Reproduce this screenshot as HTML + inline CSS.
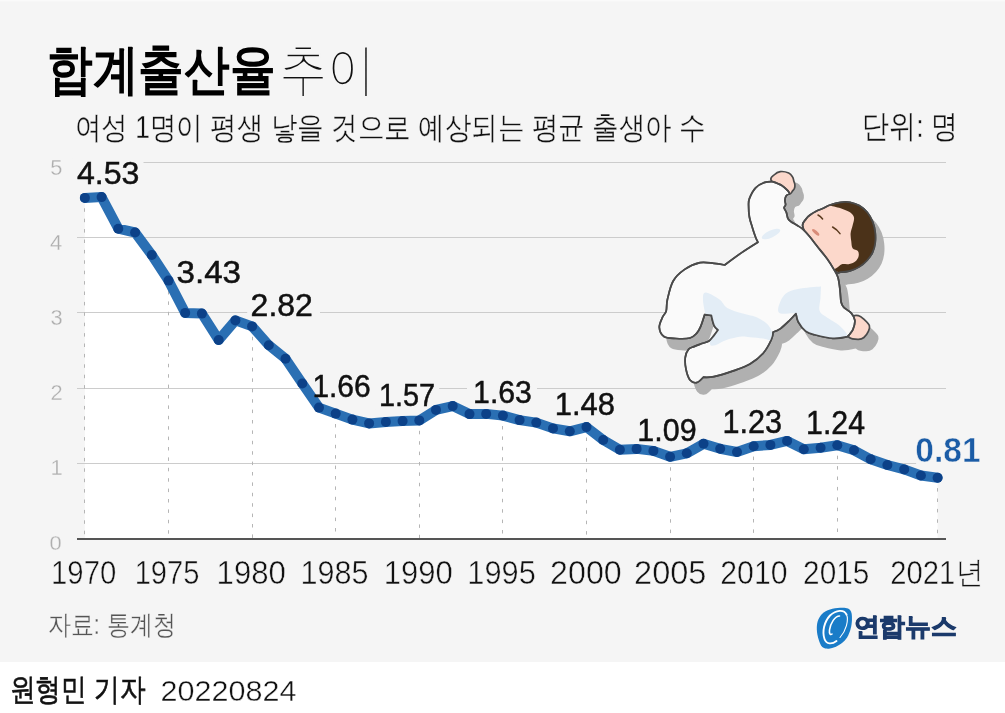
<!DOCTYPE html>
<html><head><meta charset="utf-8"><style>
html,body{margin:0;padding:0;background:#fff;}
body{width:1005px;height:713px;overflow:hidden;position:relative;font-family:"Liberation Sans",sans-serif;}
svg{position:absolute;left:0;top:0;will-change:transform;}
</style></head><body>
<svg width="1005" height="713" viewBox="0 0 1005 713" style="font-family:'Liberation Sans',sans-serif">
<rect x="0" y="0" width="1005" height="662" fill="#f5f5f5"/><rect x="0" y="0" width="1005" height="1.5" fill="#fafafa"/>
<polygon points="84.9,538.4 84.9,197.9 101.6,197.1 118.3,228.7 135.1,232.5 151.8,255.0 168.5,280.6 185.2,312.9 201.9,313.6 218.7,340.0 235.4,320.4 252.1,326.4 268.8,345.2 285.5,358.7 302.3,383.5 319.0,407.6 335.7,413.6 352.4,419.6 369.1,423.4 385.9,421.9 402.6,421.1 419.3,420.4 436.0,409.9 452.7,406.1 469.5,414.1 486.2,413.9 502.9,415.6 519.6,420.1 536.3,422.6 553.0,428.4 569.8,431.3 586.5,427.1 603.2,440.0 619.9,449.8 636.6,448.9 653.4,450.9 670.1,456.8 686.8,453.3 703.5,443.8 720.2,448.8 737.0,452.0 753.7,446.2 770.4,444.9 787.1,440.9 803.8,449.2 820.6,447.8 837.3,445.3 854.0,450.3 870.7,459.3 887.4,465.0 904.2,469.4 920.9,475.5 937.6,477.7 937.6,538.4" fill="#fff"/>
<line x1="77" x2="946" y1="463.5" y2="463.5" stroke="#cccccc" stroke-width="1"/>
<line x1="77" x2="946" y1="388.5" y2="388.5" stroke="#cccccc" stroke-width="1"/>
<line x1="77" x2="946" y1="312.5" y2="312.5" stroke="#cccccc" stroke-width="1"/>
<line x1="77" x2="946" y1="237.5" y2="237.5" stroke="#cccccc" stroke-width="1"/>
<line x1="77" x2="946" y1="162.5" y2="162.5" stroke="#cccccc" stroke-width="1"/>
<line x1="84.5" x2="84.5" y1="197.9" y2="538.4" stroke="#b5b5b5" stroke-width="1" stroke-dasharray="3.5,6.9"/>
<line x1="168.5" x2="168.5" y1="280.6" y2="538.4" stroke="#b5b5b5" stroke-width="1" stroke-dasharray="3.5,6.9"/>
<line x1="252.5" x2="252.5" y1="326.4" y2="538.4" stroke="#b5b5b5" stroke-width="1" stroke-dasharray="3.5,6.9"/>
<line x1="335.5" x2="335.5" y1="413.6" y2="538.4" stroke="#b5b5b5" stroke-width="1" stroke-dasharray="3.5,6.9"/>
<line x1="419.5" x2="419.5" y1="420.4" y2="538.4" stroke="#b5b5b5" stroke-width="1" stroke-dasharray="3.5,6.9"/>
<line x1="502.5" x2="502.5" y1="415.6" y2="538.4" stroke="#b5b5b5" stroke-width="1" stroke-dasharray="3.5,6.9"/>
<line x1="586.5" x2="586.5" y1="427.1" y2="538.4" stroke="#b5b5b5" stroke-width="1" stroke-dasharray="3.5,6.9"/>
<line x1="670.5" x2="670.5" y1="456.8" y2="538.4" stroke="#b5b5b5" stroke-width="1" stroke-dasharray="3.5,6.9"/>
<line x1="753.5" x2="753.5" y1="446.2" y2="538.4" stroke="#b5b5b5" stroke-width="1" stroke-dasharray="3.5,6.9"/>
<line x1="837.5" x2="837.5" y1="445.3" y2="538.4" stroke="#b5b5b5" stroke-width="1" stroke-dasharray="3.5,6.9"/>
<line x1="937.5" x2="937.5" y1="477.7" y2="538.4" stroke="#b5b5b5" stroke-width="1" stroke-dasharray="3.5,6.9"/>
<line x1="77" x2="946" y1="539" y2="539" stroke="#555" stroke-width="2"/>
<rect x="72.1" y="158.9" width="71.4" height="28.900000000000006" fill="#f5f5f5"/>
<rect x="172.3" y="257.2" width="72.69999999999999" height="28.80000000000001" fill="#f5f5f5"/>
<rect x="247.2" y="291.3" width="72.79999999999998" height="28.5" fill="#f5f5f5"/>
<rect x="308.8" y="371.8" width="67.5" height="28.899999999999977" fill="#f5f5f5"/>
<rect x="375.7" y="380.9" width="63.5" height="28.700000000000045" fill="#f5f5f5"/>
<rect x="467.0" y="377.3" width="70.0" height="28.69999999999999" fill="#f5f5f5"/>
<rect x="551.7" y="390.1" width="67.29999999999995" height="28.69999999999999" fill="#f5f5f5"/>
<rect x="634.3" y="415.2" width="66.40000000000009" height="28.69999999999999" fill="#f5f5f5"/>
<rect x="719.4" y="406.9" width="66.70000000000005" height="29.900000000000034" fill="#f5f5f5"/>
<rect x="803.0" y="406.9" width="66.70000000000005" height="29.900000000000034" fill="#f5f5f5"/>
<rect x="916.1" y="434.2" width="69.60000000000002" height="31.19999999999999" fill="#f5f5f5"/>
<polyline points="84.9,197.9 101.6,197.1 118.3,228.7 135.1,232.5 151.8,255.0 168.5,280.6 185.2,312.9 201.9,313.6 218.7,340.0 235.4,320.4 252.1,326.4 268.8,345.2 285.5,358.7 302.3,383.5 319.0,407.6 335.7,413.6 352.4,419.6 369.1,423.4 385.9,421.9 402.6,421.1 419.3,420.4 436.0,409.9 452.7,406.1 469.5,414.1 486.2,413.9 502.9,415.6 519.6,420.1 536.3,422.6 553.0,428.4 569.8,431.3 586.5,427.1 603.2,440.0 619.9,449.8 636.6,448.9 653.4,450.9 670.1,456.8 686.8,453.3 703.5,443.8 720.2,448.8 737.0,452.0 753.7,446.2 770.4,444.9 787.1,440.9 803.8,449.2 820.6,447.8 837.3,445.3 854.0,450.3 870.7,459.3 887.4,465.0 904.2,469.4 920.9,475.5 937.6,477.7" fill="none" stroke="#2a6fb3" stroke-width="10" stroke-linejoin="round" stroke-linecap="round"/>
<g fill="#0c4188"><circle cx="84.9" cy="197.9" r="5"/><circle cx="101.6" cy="197.1" r="5"/><circle cx="118.3" cy="228.7" r="5"/><circle cx="135.1" cy="232.5" r="5"/><circle cx="151.8" cy="255.0" r="5"/><circle cx="168.5" cy="280.6" r="5"/><circle cx="185.2" cy="312.9" r="5"/><circle cx="201.9" cy="313.6" r="5"/><circle cx="218.7" cy="340.0" r="5"/><circle cx="235.4" cy="320.4" r="5"/><circle cx="252.1" cy="326.4" r="5"/><circle cx="268.8" cy="345.2" r="5"/><circle cx="285.5" cy="358.7" r="5"/><circle cx="302.3" cy="383.5" r="5"/><circle cx="319.0" cy="407.6" r="5"/><circle cx="335.7" cy="413.6" r="5"/><circle cx="352.4" cy="419.6" r="5"/><circle cx="369.1" cy="423.4" r="5"/><circle cx="385.9" cy="421.9" r="5"/><circle cx="402.6" cy="421.1" r="5"/><circle cx="419.3" cy="420.4" r="5"/><circle cx="436.0" cy="409.9" r="5"/><circle cx="452.7" cy="406.1" r="5"/><circle cx="469.5" cy="414.1" r="5"/><circle cx="486.2" cy="413.9" r="5"/><circle cx="502.9" cy="415.6" r="5"/><circle cx="519.6" cy="420.1" r="5"/><circle cx="536.3" cy="422.6" r="5"/><circle cx="553.0" cy="428.4" r="5"/><circle cx="569.8" cy="431.3" r="5"/><circle cx="586.5" cy="427.1" r="5"/><circle cx="603.2" cy="440.0" r="5"/><circle cx="619.9" cy="449.8" r="5"/><circle cx="636.6" cy="448.9" r="5"/><circle cx="653.4" cy="450.9" r="5"/><circle cx="670.1" cy="456.8" r="5"/><circle cx="686.8" cy="453.3" r="5"/><circle cx="703.5" cy="443.8" r="5"/><circle cx="720.2" cy="448.8" r="5"/><circle cx="737.0" cy="452.0" r="5"/><circle cx="753.7" cy="446.2" r="5"/><circle cx="770.4" cy="444.9" r="5"/><circle cx="787.1" cy="440.9" r="5"/><circle cx="803.8" cy="449.2" r="5"/><circle cx="820.6" cy="447.8" r="5"/><circle cx="837.3" cy="445.3" r="5"/><circle cx="854.0" cy="450.3" r="5"/><circle cx="870.7" cy="459.3" r="5"/><circle cx="887.4" cy="465.0" r="5"/><circle cx="904.2" cy="469.4" r="5"/><circle cx="920.9" cy="475.5" r="5"/><circle cx="937.6" cy="477.7" r="5"/></g>
<g transform="translate(8,11)" fill="#b0b0b0" stroke="#b0b0b0" stroke-width="2"><path d="M802.6,225.6C802.3,222.4 804.8,220.8 806.0,219.0C807.2,217.2 808.2,216.3 810.0,215.0C811.8,213.7 814.4,212.1 816.6,211.0C818.8,209.9 821.1,209.3 823.3,208.3C825.5,207.3 827.1,206.0 830.0,205.0C832.9,204.0 837.3,202.8 840.6,202.3C843.9,201.9 846.9,201.8 850.0,202.3C853.1,202.9 856.3,203.9 859.2,205.6C862.1,207.3 865.0,209.6 867.2,212.3C869.4,215.0 871.3,218.3 872.6,221.6C873.9,224.9 874.8,228.7 875.2,232.3C875.6,235.9 875.6,239.7 875.2,243.0C874.8,246.3 873.9,249.4 872.6,252.3C871.3,255.2 869.4,257.8 867.2,260.2C865.0,262.6 862.1,265.1 859.2,266.9C856.3,268.7 853.1,270.0 850.0,270.9C846.9,271.8 843.1,272.1 840.6,272.2C838.1,272.3 838.7,274.5 835.3,271.6C831.9,268.7 824.5,260.6 820.0,255.0C815.5,249.4 810.9,242.9 808.0,238.0C805.1,233.1 802.9,228.8 802.6,225.6Z"/><path d="M771.0,180.0C770.0,177.2 772.5,176.4 774.0,175.0C775.5,173.6 777.8,171.9 780.2,171.6C782.7,171.3 786.6,172.1 788.7,173.0C790.8,173.9 791.8,175.7 792.6,177.0C793.5,178.3 793.4,179.7 793.8,181.0C794.2,182.3 794.8,183.4 794.9,184.7C795.0,185.9 794.8,187.5 794.4,188.5C794.0,189.5 793.4,190.0 792.6,190.9C791.8,191.8 791.6,193.8 789.5,194.0C787.4,194.2 783.1,194.3 780.0,192.0C776.9,189.7 772.0,182.8 771.0,180.0Z"/><path d="M849.0,318.0C851.4,315.9 855.8,315.2 858.4,315.6C861.0,316.0 863.0,318.5 864.8,320.2C866.6,321.9 868.8,323.9 869.4,325.7C870.0,327.5 869.4,329.1 868.5,331.1C867.6,333.1 865.6,336.1 863.9,337.5C862.2,338.9 860.8,339.3 858.4,339.3C856.0,339.3 851.7,339.4 849.3,337.5C846.9,335.6 844.0,331.2 844.0,328.0C844.0,324.8 846.6,320.1 849.0,318.0Z"/><path d="M772.5,181.6C772.5,181.6 779.2,183.9 781.8,185.5C784.4,187.1 786.7,189.5 788.0,190.9C789.3,192.3 789.5,194.0 789.5,194.0C789.5,194.0 787.2,194.5 786.4,195.5C785.6,196.5 785.0,198.5 784.9,200.1C784.8,201.7 785.7,203.5 785.6,204.8C785.5,206.1 784.0,206.5 784.1,207.8C784.2,209.1 785.8,210.7 786.4,212.5C787.0,214.3 787.2,217.1 788.0,218.6C788.8,220.1 789.5,220.6 791.0,221.7C792.5,222.8 795.0,223.9 797.0,225.2C799.0,226.5 801.1,227.6 803.3,229.6C805.5,231.6 807.8,234.3 810.0,237.0C812.2,239.7 813.7,241.9 816.6,245.6C819.5,249.3 824.4,255.0 827.3,259.0C830.2,263.0 832.2,266.5 834.0,269.6C835.8,272.7 837.0,274.2 838.0,277.6C839.0,281.0 839.5,285.9 840.0,290.0C840.5,294.1 840.5,299.1 841.1,302.0C841.7,304.9 842.1,305.6 843.8,307.4C845.5,309.2 849.3,310.8 851.1,312.9C852.9,315.0 854.5,317.5 854.8,320.2C855.1,322.9 854.2,326.6 853.0,329.3C851.8,332.0 847.5,336.6 847.5,336.6C847.5,336.6 838.4,338.7 832.9,338.4C827.4,338.1 819.2,336.0 814.7,334.8C810.2,333.6 808.3,333.2 805.6,331.1C802.9,329.0 799.9,324.9 798.3,322.0C796.7,319.1 796.0,313.5 796.0,313.5C796.0,313.5 792.5,317.5 789.9,320.0C787.3,322.5 783.3,326.6 780.5,328.6C777.7,330.6 773.2,332.0 773.2,332.0C773.2,332.0 772.9,336.4 771.2,340.0C769.5,343.6 766.7,349.3 763.2,353.3C759.7,357.3 754.9,361.1 750.0,364.0C745.1,366.9 740.0,368.5 734.0,370.6C728.0,372.7 719.1,375.5 714.0,376.6C708.9,377.7 703.3,377.2 703.3,377.2C703.3,377.2 698.8,382.1 696.6,382.6C694.4,383.1 691.8,382.2 690.0,380.0C688.2,377.8 686.8,373.1 686.0,369.3C685.2,365.5 684.9,360.6 685.3,357.3C685.7,354.0 687.1,351.1 688.6,349.3C690.1,347.5 692.0,347.5 694.0,346.6C696.0,345.7 698.2,344.9 700.6,344.0C703.0,343.1 706.6,342.4 708.6,341.3C710.6,340.2 711.0,339.2 712.6,337.3C714.2,335.4 718.0,330.0 718.0,330.0C718.0,330.0 715.1,327.8 714.0,325.3C712.9,322.9 711.3,315.3 711.3,315.3C711.3,315.3 704.6,314.7 704.6,314.7C704.6,314.7 701.9,323.5 700.6,326.6C699.3,329.7 698.4,331.4 696.6,333.3C694.8,335.2 693.4,337.1 690.0,338.0C686.6,338.9 680.4,338.8 676.0,338.5C671.6,338.2 666.7,338.4 663.9,336.5C661.1,334.6 659.5,330.5 659.3,327.2C659.1,323.9 661.6,319.5 662.7,316.8C663.9,314.1 665.4,313.9 666.2,311.0C667.0,308.1 666.2,304.5 667.4,299.5C668.6,294.5 670.3,286.0 673.2,281.0C676.1,276.0 680.2,272.5 684.7,269.4C689.2,266.3 695.1,263.6 700.0,262.6C704.9,261.6 709.8,263.0 713.9,263.4C718.0,263.8 724.7,265.0 724.7,265.0C724.7,265.0 736.2,256.4 741.7,252.6C747.2,248.8 757.9,242.2 757.9,242.2C757.9,242.2 756.5,239.6 755.6,237.2C754.7,234.8 753.5,231.3 752.5,227.9C751.5,224.5 750.0,220.6 749.4,217.0C748.8,213.4 748.6,209.4 748.6,206.3C748.6,203.2 748.2,201.7 749.4,198.6C750.6,195.5 753.0,190.5 755.6,187.8C758.2,185.1 762.0,183.4 764.8,182.4C767.6,181.4 772.5,181.6 772.5,181.6Z"/></g>
<path d="M802.6,225.6C802.3,222.4 804.8,220.8 806.0,219.0C807.2,217.2 808.2,216.3 810.0,215.0C811.8,213.7 814.4,212.1 816.6,211.0C818.8,209.9 821.1,209.3 823.3,208.3C825.5,207.3 827.1,206.0 830.0,205.0C832.9,204.0 837.3,202.8 840.6,202.3C843.9,201.9 846.9,201.8 850.0,202.3C853.1,202.9 856.3,203.9 859.2,205.6C862.1,207.3 865.0,209.6 867.2,212.3C869.4,215.0 871.3,218.3 872.6,221.6C873.9,224.9 874.8,228.7 875.2,232.3C875.6,235.9 875.6,239.7 875.2,243.0C874.8,246.3 873.9,249.4 872.6,252.3C871.3,255.2 869.4,257.8 867.2,260.2C865.0,262.6 862.1,265.1 859.2,266.9C856.3,268.7 853.1,270.0 850.0,270.9C846.9,271.8 843.1,272.1 840.6,272.2C838.1,272.3 838.7,274.5 835.3,271.6C831.9,268.7 824.5,260.6 820.0,255.0C815.5,249.4 810.9,242.9 808.0,238.0C805.1,233.1 802.9,228.8 802.6,225.6Z" fill="#fcd8cb" stroke="#4a4a4a" stroke-width="1.7" stroke-linejoin="round"/>
<path d="M830.0,205.0C830.0,204.0 837.3,202.8 840.6,202.3C843.9,201.9 846.9,201.8 850.0,202.3C853.1,202.9 856.3,203.9 859.2,205.6C862.1,207.3 865.0,209.6 867.2,212.3C869.4,215.0 871.3,218.3 872.6,221.6C873.9,224.9 874.8,228.7 875.2,232.3C875.6,235.9 875.6,239.7 875.2,243.0C874.8,246.3 873.9,249.4 872.6,252.3C871.3,255.2 869.4,257.8 867.2,260.2C865.0,262.6 862.1,265.1 859.2,266.9C856.3,268.7 853.1,270.0 850.0,270.9C846.9,271.8 843.1,272.1 840.6,272.2C838.1,272.3 836.4,272.0 835.3,271.6C834.2,271.2 833.5,270.4 834.0,269.6C834.5,268.8 836.7,267.8 838.0,266.9C839.3,266.0 840.1,264.6 841.9,264.2C843.7,263.8 846.4,264.6 848.6,264.2C850.8,263.8 853.5,262.9 855.2,261.6C856.9,260.3 858.2,258.1 858.6,256.3C859.0,254.5 858.9,252.3 857.9,251.0C856.9,249.7 853.7,249.9 852.6,248.3C851.5,246.7 851.6,244.1 851.3,241.6C851.0,239.1 850.4,236.3 850.6,233.6C850.8,230.9 852.0,228.3 852.6,225.6C853.2,222.9 854.4,219.8 854.0,217.6C853.6,215.4 852.2,213.9 850.0,212.3C847.8,210.8 843.9,209.5 840.6,208.3C837.3,207.1 830.0,206.0 830.0,205.0Z" fill="#4b3219"/>
<path d="M802.6,225.6C802.3,222.4 804.8,220.8 806.0,219.0C807.2,217.2 808.2,216.3 810.0,215.0C811.8,213.7 814.4,212.1 816.6,211.0C818.8,209.9 821.1,209.3 823.3,208.3C825.5,207.3 827.1,206.0 830.0,205.0C832.9,204.0 837.3,202.8 840.6,202.3C843.9,201.9 846.9,201.8 850.0,202.3C853.1,202.9 856.3,203.9 859.2,205.6C862.1,207.3 865.0,209.6 867.2,212.3C869.4,215.0 871.3,218.3 872.6,221.6C873.9,224.9 874.8,228.7 875.2,232.3C875.6,235.9 875.6,239.7 875.2,243.0C874.8,246.3 873.9,249.4 872.6,252.3C871.3,255.2 869.4,257.8 867.2,260.2C865.0,262.6 862.1,265.1 859.2,266.9C856.3,268.7 853.1,270.0 850.0,270.9C846.9,271.8 843.1,272.1 840.6,272.2C838.1,272.3 838.7,274.5 835.3,271.6C831.9,268.7 824.5,260.6 820.0,255.0C815.5,249.4 810.9,242.9 808.0,238.0C805.1,233.1 802.9,228.8 802.6,225.6Z" fill="none" stroke="#4a4a4a" stroke-width="1.7" stroke-linejoin="round"/>
<path d="M818,215 Q820.5,216.3 822.6,219" stroke="#5a3a1e" stroke-width="1.5" fill="none" stroke-linecap="round"/>
<path d="M832.6,227 Q837,229.5 840,233.6" stroke="#5a3a1e" stroke-width="1.5" fill="none" stroke-linecap="round"/>
<ellipse cx="815.7" cy="232.3" rx="4.6" ry="1.6" transform="rotate(42 815.7 232.3)" fill="#d98c79"/>
<path d="M771.0,180.0C770.0,177.2 772.5,176.4 774.0,175.0C775.5,173.6 777.8,171.9 780.2,171.6C782.7,171.3 786.6,172.1 788.7,173.0C790.8,173.9 791.8,175.7 792.6,177.0C793.5,178.3 793.4,179.7 793.8,181.0C794.2,182.3 794.8,183.4 794.9,184.7C795.0,185.9 794.8,187.5 794.4,188.5C794.0,189.5 793.4,190.0 792.6,190.9C791.8,191.8 791.6,193.8 789.5,194.0C787.4,194.2 783.1,194.3 780.0,192.0C776.9,189.7 772.0,182.8 771.0,180.0Z" fill="#fcd8cb" stroke="#4a4a4a" stroke-width="1.7" stroke-linejoin="round"/>
<path d="M849.0,318.0C851.4,315.9 855.8,315.2 858.4,315.6C861.0,316.0 863.0,318.5 864.8,320.2C866.6,321.9 868.8,323.9 869.4,325.7C870.0,327.5 869.4,329.1 868.5,331.1C867.6,333.1 865.6,336.1 863.9,337.5C862.2,338.9 860.8,339.3 858.4,339.3C856.0,339.3 851.7,339.4 849.3,337.5C846.9,335.6 844.0,331.2 844.0,328.0C844.0,324.8 846.6,320.1 849.0,318.0Z" fill="#fcd8cb" stroke="#4a4a4a" stroke-width="1.7" stroke-linejoin="round"/>
<path d="M772.5,181.6C772.5,181.6 779.2,183.9 781.8,185.5C784.4,187.1 786.7,189.5 788.0,190.9C789.3,192.3 789.5,194.0 789.5,194.0C789.5,194.0 787.2,194.5 786.4,195.5C785.6,196.5 785.0,198.5 784.9,200.1C784.8,201.7 785.7,203.5 785.6,204.8C785.5,206.1 784.0,206.5 784.1,207.8C784.2,209.1 785.8,210.7 786.4,212.5C787.0,214.3 787.2,217.1 788.0,218.6C788.8,220.1 789.5,220.6 791.0,221.7C792.5,222.8 795.0,223.9 797.0,225.2C799.0,226.5 801.1,227.6 803.3,229.6C805.5,231.6 807.8,234.3 810.0,237.0C812.2,239.7 813.7,241.9 816.6,245.6C819.5,249.3 824.4,255.0 827.3,259.0C830.2,263.0 832.2,266.5 834.0,269.6C835.8,272.7 837.0,274.2 838.0,277.6C839.0,281.0 839.5,285.9 840.0,290.0C840.5,294.1 840.5,299.1 841.1,302.0C841.7,304.9 842.1,305.6 843.8,307.4C845.5,309.2 849.3,310.8 851.1,312.9C852.9,315.0 854.5,317.5 854.8,320.2C855.1,322.9 854.2,326.6 853.0,329.3C851.8,332.0 847.5,336.6 847.5,336.6C847.5,336.6 838.4,338.7 832.9,338.4C827.4,338.1 819.2,336.0 814.7,334.8C810.2,333.6 808.3,333.2 805.6,331.1C802.9,329.0 799.9,324.9 798.3,322.0C796.7,319.1 796.0,313.5 796.0,313.5C796.0,313.5 792.5,317.5 789.9,320.0C787.3,322.5 783.3,326.6 780.5,328.6C777.7,330.6 773.2,332.0 773.2,332.0C773.2,332.0 772.9,336.4 771.2,340.0C769.5,343.6 766.7,349.3 763.2,353.3C759.7,357.3 754.9,361.1 750.0,364.0C745.1,366.9 740.0,368.5 734.0,370.6C728.0,372.7 719.1,375.5 714.0,376.6C708.9,377.7 703.3,377.2 703.3,377.2C703.3,377.2 698.8,382.1 696.6,382.6C694.4,383.1 691.8,382.2 690.0,380.0C688.2,377.8 686.8,373.1 686.0,369.3C685.2,365.5 684.9,360.6 685.3,357.3C685.7,354.0 687.1,351.1 688.6,349.3C690.1,347.5 692.0,347.5 694.0,346.6C696.0,345.7 698.2,344.9 700.6,344.0C703.0,343.1 706.6,342.4 708.6,341.3C710.6,340.2 711.0,339.2 712.6,337.3C714.2,335.4 718.0,330.0 718.0,330.0C718.0,330.0 715.1,327.8 714.0,325.3C712.9,322.9 711.3,315.3 711.3,315.3C711.3,315.3 704.6,314.7 704.6,314.7C704.6,314.7 701.9,323.5 700.6,326.6C699.3,329.7 698.4,331.4 696.6,333.3C694.8,335.2 693.4,337.1 690.0,338.0C686.6,338.9 680.4,338.8 676.0,338.5C671.6,338.2 666.7,338.4 663.9,336.5C661.1,334.6 659.5,330.5 659.3,327.2C659.1,323.9 661.6,319.5 662.7,316.8C663.9,314.1 665.4,313.9 666.2,311.0C667.0,308.1 666.2,304.5 667.4,299.5C668.6,294.5 670.3,286.0 673.2,281.0C676.1,276.0 680.2,272.5 684.7,269.4C689.2,266.3 695.1,263.6 700.0,262.6C704.9,261.6 709.8,263.0 713.9,263.4C718.0,263.8 724.7,265.0 724.7,265.0C724.7,265.0 736.2,256.4 741.7,252.6C747.2,248.8 757.9,242.2 757.9,242.2C757.9,242.2 756.5,239.6 755.6,237.2C754.7,234.8 753.5,231.3 752.5,227.9C751.5,224.5 750.0,220.6 749.4,217.0C748.8,213.4 748.6,209.4 748.6,206.3C748.6,203.2 748.2,201.7 749.4,198.6C750.6,195.5 753.0,190.5 755.6,187.8C758.2,185.1 762.0,183.4 764.8,182.4C767.6,181.4 772.5,181.6 772.5,181.6Z" fill="#fafafa" stroke="#4a4a4a" stroke-width="1.7" stroke-linejoin="round"/>
<clipPath id="bc"><path d="M772.5,181.6C772.5,181.6 779.2,183.9 781.8,185.5C784.4,187.1 786.7,189.5 788.0,190.9C789.3,192.3 789.5,194.0 789.5,194.0C789.5,194.0 787.2,194.5 786.4,195.5C785.6,196.5 785.0,198.5 784.9,200.1C784.8,201.7 785.7,203.5 785.6,204.8C785.5,206.1 784.0,206.5 784.1,207.8C784.2,209.1 785.8,210.7 786.4,212.5C787.0,214.3 787.2,217.1 788.0,218.6C788.8,220.1 789.5,220.6 791.0,221.7C792.5,222.8 795.0,223.9 797.0,225.2C799.0,226.5 801.1,227.6 803.3,229.6C805.5,231.6 807.8,234.3 810.0,237.0C812.2,239.7 813.7,241.9 816.6,245.6C819.5,249.3 824.4,255.0 827.3,259.0C830.2,263.0 832.2,266.5 834.0,269.6C835.8,272.7 837.0,274.2 838.0,277.6C839.0,281.0 839.5,285.9 840.0,290.0C840.5,294.1 840.5,299.1 841.1,302.0C841.7,304.9 842.1,305.6 843.8,307.4C845.5,309.2 849.3,310.8 851.1,312.9C852.9,315.0 854.5,317.5 854.8,320.2C855.1,322.9 854.2,326.6 853.0,329.3C851.8,332.0 847.5,336.6 847.5,336.6C847.5,336.6 838.4,338.7 832.9,338.4C827.4,338.1 819.2,336.0 814.7,334.8C810.2,333.6 808.3,333.2 805.6,331.1C802.9,329.0 799.9,324.9 798.3,322.0C796.7,319.1 796.0,313.5 796.0,313.5C796.0,313.5 792.5,317.5 789.9,320.0C787.3,322.5 783.3,326.6 780.5,328.6C777.7,330.6 773.2,332.0 773.2,332.0C773.2,332.0 772.9,336.4 771.2,340.0C769.5,343.6 766.7,349.3 763.2,353.3C759.7,357.3 754.9,361.1 750.0,364.0C745.1,366.9 740.0,368.5 734.0,370.6C728.0,372.7 719.1,375.5 714.0,376.6C708.9,377.7 703.3,377.2 703.3,377.2C703.3,377.2 698.8,382.1 696.6,382.6C694.4,383.1 691.8,382.2 690.0,380.0C688.2,377.8 686.8,373.1 686.0,369.3C685.2,365.5 684.9,360.6 685.3,357.3C685.7,354.0 687.1,351.1 688.6,349.3C690.1,347.5 692.0,347.5 694.0,346.6C696.0,345.7 698.2,344.9 700.6,344.0C703.0,343.1 706.6,342.4 708.6,341.3C710.6,340.2 711.0,339.2 712.6,337.3C714.2,335.4 718.0,330.0 718.0,330.0C718.0,330.0 715.1,327.8 714.0,325.3C712.9,322.9 711.3,315.3 711.3,315.3C711.3,315.3 704.6,314.7 704.6,314.7C704.6,314.7 701.9,323.5 700.6,326.6C699.3,329.7 698.4,331.4 696.6,333.3C694.8,335.2 693.4,337.1 690.0,338.0C686.6,338.9 680.4,338.8 676.0,338.5C671.6,338.2 666.7,338.4 663.9,336.5C661.1,334.6 659.5,330.5 659.3,327.2C659.1,323.9 661.6,319.5 662.7,316.8C663.9,314.1 665.4,313.9 666.2,311.0C667.0,308.1 666.2,304.5 667.4,299.5C668.6,294.5 670.3,286.0 673.2,281.0C676.1,276.0 680.2,272.5 684.7,269.4C689.2,266.3 695.1,263.6 700.0,262.6C704.9,261.6 709.8,263.0 713.9,263.4C718.0,263.8 724.7,265.0 724.7,265.0C724.7,265.0 736.2,256.4 741.7,252.6C747.2,248.8 757.9,242.2 757.9,242.2C757.9,242.2 756.5,239.6 755.6,237.2C754.7,234.8 753.5,231.3 752.5,227.9C751.5,224.5 750.0,220.6 749.4,217.0C748.8,213.4 748.6,209.4 748.6,206.3C748.6,203.2 748.2,201.7 749.4,198.6C750.6,195.5 753.0,190.5 755.6,187.8C758.2,185.1 762.0,183.4 764.8,182.4C767.6,181.4 772.5,181.6 772.5,181.6Z"/></clipPath>
<g clip-path="url(#bc)" fill="#e3edf6"><path d="M705.6,292.5C708.4,292.4 715.9,296.9 719.5,299.5C723.1,302.1 723.6,305.7 727.3,308.0C731.0,310.3 737.0,311.8 741.9,313.3C746.8,314.9 752.4,315.5 756.6,317.3C760.8,319.1 764.7,321.6 767.2,324.0C769.8,326.4 771.2,329.3 771.9,332.0C772.6,334.7 772.7,338.9 771.2,340.0C769.8,341.1 766.8,339.1 763.2,338.6C759.7,338.2 753.4,337.6 749.9,337.3C746.4,337.0 745.1,336.4 742.0,336.6C738.9,336.8 734.4,337.8 731.3,338.6C728.2,339.4 726.0,340.2 723.3,341.3C720.6,342.4 717.5,344.9 715.3,345.3C713.1,345.8 710.5,346.6 710.0,344.0C709.5,341.4 712.7,334.7 712.0,330.0C711.3,325.3 707.5,321.0 706.0,316.0C704.5,311.0 703.1,303.9 703.0,300.0C702.9,296.1 702.9,292.6 705.6,292.5Z"/><path d="M779.1,312.8C776.5,310.5 779.5,303.5 781.0,300.0C782.5,296.5 784.7,293.9 788.2,291.9C791.7,289.9 796.4,289.1 801.9,288.2C807.4,287.3 821.0,286.4 821.0,286.4C821.0,286.4 820.7,293.9 820.5,298.0C820.3,302.1 818.4,307.6 819.7,311.0C821.0,314.4 825.0,315.9 828.3,318.3C831.6,320.7 836.2,322.7 839.3,325.6C842.4,328.6 848.1,333.9 847.0,336.0C845.9,338.1 838.3,338.6 832.9,338.4C827.5,338.2 819.2,336.0 814.7,334.8C810.2,333.6 808.3,333.2 805.6,331.1C802.9,329.0 799.8,324.9 798.3,322.0C796.8,319.1 799.6,315.2 796.4,313.7C793.2,312.2 781.7,315.1 779.1,312.8Z"/><ellipse cx="771" cy="234" rx="10" ry="3.5" transform="rotate(-25 771 234)"/></g>
<path d="M772.5,181.6C772.5,181.6 779.2,183.9 781.8,185.5C784.4,187.1 786.7,189.5 788.0,190.9C789.3,192.3 789.5,194.0 789.5,194.0C789.5,194.0 787.2,194.5 786.4,195.5C785.6,196.5 785.0,198.5 784.9,200.1C784.8,201.7 785.7,203.5 785.6,204.8C785.5,206.1 784.0,206.5 784.1,207.8C784.2,209.1 785.8,210.7 786.4,212.5C787.0,214.3 787.2,217.1 788.0,218.6C788.8,220.1 789.5,220.6 791.0,221.7C792.5,222.8 795.0,223.9 797.0,225.2C799.0,226.5 801.1,227.6 803.3,229.6C805.5,231.6 807.8,234.3 810.0,237.0C812.2,239.7 813.7,241.9 816.6,245.6C819.5,249.3 824.4,255.0 827.3,259.0C830.2,263.0 832.2,266.5 834.0,269.6C835.8,272.7 837.0,274.2 838.0,277.6C839.0,281.0 839.5,285.9 840.0,290.0C840.5,294.1 840.5,299.1 841.1,302.0C841.7,304.9 842.1,305.6 843.8,307.4C845.5,309.2 849.3,310.8 851.1,312.9C852.9,315.0 854.5,317.5 854.8,320.2C855.1,322.9 854.2,326.6 853.0,329.3C851.8,332.0 847.5,336.6 847.5,336.6C847.5,336.6 838.4,338.7 832.9,338.4C827.4,338.1 819.2,336.0 814.7,334.8C810.2,333.6 808.3,333.2 805.6,331.1C802.9,329.0 799.9,324.9 798.3,322.0C796.7,319.1 796.0,313.5 796.0,313.5C796.0,313.5 792.5,317.5 789.9,320.0C787.3,322.5 783.3,326.6 780.5,328.6C777.7,330.6 773.2,332.0 773.2,332.0C773.2,332.0 772.9,336.4 771.2,340.0C769.5,343.6 766.7,349.3 763.2,353.3C759.7,357.3 754.9,361.1 750.0,364.0C745.1,366.9 740.0,368.5 734.0,370.6C728.0,372.7 719.1,375.5 714.0,376.6C708.9,377.7 703.3,377.2 703.3,377.2C703.3,377.2 698.8,382.1 696.6,382.6C694.4,383.1 691.8,382.2 690.0,380.0C688.2,377.8 686.8,373.1 686.0,369.3C685.2,365.5 684.9,360.6 685.3,357.3C685.7,354.0 687.1,351.1 688.6,349.3C690.1,347.5 692.0,347.5 694.0,346.6C696.0,345.7 698.2,344.9 700.6,344.0C703.0,343.1 706.6,342.4 708.6,341.3C710.6,340.2 711.0,339.2 712.6,337.3C714.2,335.4 718.0,330.0 718.0,330.0C718.0,330.0 715.1,327.8 714.0,325.3C712.9,322.9 711.3,315.3 711.3,315.3C711.3,315.3 704.6,314.7 704.6,314.7C704.6,314.7 701.9,323.5 700.6,326.6C699.3,329.7 698.4,331.4 696.6,333.3C694.8,335.2 693.4,337.1 690.0,338.0C686.6,338.9 680.4,338.8 676.0,338.5C671.6,338.2 666.7,338.4 663.9,336.5C661.1,334.6 659.5,330.5 659.3,327.2C659.1,323.9 661.6,319.5 662.7,316.8C663.9,314.1 665.4,313.9 666.2,311.0C667.0,308.1 666.2,304.5 667.4,299.5C668.6,294.5 670.3,286.0 673.2,281.0C676.1,276.0 680.2,272.5 684.7,269.4C689.2,266.3 695.1,263.6 700.0,262.6C704.9,261.6 709.8,263.0 713.9,263.4C718.0,263.8 724.7,265.0 724.7,265.0C724.7,265.0 736.2,256.4 741.7,252.6C747.2,248.8 757.9,242.2 757.9,242.2C757.9,242.2 756.5,239.6 755.6,237.2C754.7,234.8 753.5,231.3 752.5,227.9C751.5,224.5 750.0,220.6 749.4,217.0C748.8,213.4 748.6,209.4 748.6,206.3C748.6,203.2 748.2,201.7 749.4,198.6C750.6,195.5 753.0,190.5 755.6,187.8C758.2,185.1 762.0,183.4 764.8,182.4C767.6,181.4 772.5,181.6 772.5,181.6Z" fill="none" stroke="#4a4a4a" stroke-width="1.7" stroke-linejoin="round"/>
<g><path d="M822.0,614.0C824.1,611.9 827.0,610.5 830.0,609.5C833.0,608.5 837.0,608.0 840.0,607.8C843.0,607.6 846.1,607.6 848.0,608.5C849.9,609.4 850.9,610.8 851.5,613.0C852.1,615.2 852.0,619.0 851.8,622.0C851.5,625.0 851.0,628.2 850.0,631.0C849.0,633.8 847.8,636.7 846.0,639.0C844.2,641.3 841.7,643.4 839.0,645.0C836.3,646.6 832.7,648.1 830.0,648.5C827.3,648.9 824.8,648.6 823.0,647.5C821.2,646.4 820.5,644.6 819.5,642.0C818.5,639.4 817.3,635.3 817.0,632.0C816.7,628.7 816.7,625.0 817.5,622.0C818.3,619.0 819.9,616.1 822.0,614.0Z" fill="#1a7cc8"/><path d="M846.5,614.5 C844,609 836,610 830,615.5 C824,622 822,632 824.5,639 C826.5,644.5 832,644.5 836.5,641" fill="none" stroke="#fff" stroke-width="1.9" stroke-linecap="round"/><path d="M846.5,614.5 C849,620 846,631 840,637.5" fill="none" stroke="#fff" stroke-width="1.1" stroke-linecap="round"/><path d="M839.5,616 C835,616 830.5,623 829.5,630 C829,634 830.5,635.5 832,634" fill="none" stroke="#fff" stroke-width="1.6" stroke-linecap="round"/></g>
<text x="47.06" y="87.64" font-size="54.48" font-weight="bold" fill="#000" textLength="228.38" lengthAdjust="spacingAndGlyphs">합계출산율</text>
<text x="279.12" y="88.98" font-size="57.30" font-weight="200" fill="#111" textLength="96.63" lengthAdjust="spacingAndGlyphs" stroke="#f5f5f5" stroke-width="2.2">추이</text>
<text x="74.81" y="137.68" font-size="30.75" font-weight="normal" fill="#111" textLength="630.82" lengthAdjust="spacingAndGlyphs" stroke="#f5f5f5" stroke-width="0.3">여성 1명이 평생 낳을 것으로 예상되는 평균 출생아 수</text>
<text x="862.31" y="136.56" font-size="31.69" font-weight="normal" fill="#111" textLength="95.82" lengthAdjust="spacingAndGlyphs" stroke="#f5f5f5" stroke-width="0.3">단위: 명</text>
<text x="50.33" y="174.77" font-size="22.86" font-weight="normal" fill="#aeaeae" textLength="12.17" lengthAdjust="spacingAndGlyphs" stroke="#f5f5f5" stroke-width="0.3">5</text>
<text x="49.62" y="550.29" font-size="20.70" font-weight="normal" fill="#aeaeae" textLength="12.17" lengthAdjust="spacingAndGlyphs" stroke="#f5f5f5" stroke-width="0.3">0</text>
<text x="76.96" y="184.48" font-size="32.25" font-weight="normal" fill="#111" textLength="62.53" lengthAdjust="spacingAndGlyphs" stroke="#111" stroke-width="0.5">4.53</text>
<text x="176.47" y="282.68" font-size="32.11" font-weight="normal" fill="#111" textLength="64.57" lengthAdjust="spacingAndGlyphs" stroke="#111" stroke-width="0.5">3.43</text>
<text x="250.60" y="316.48" font-size="31.69" font-weight="normal" fill="#111" textLength="62.28" lengthAdjust="spacingAndGlyphs" stroke="#111" stroke-width="0.5">2.82</text>
<text x="312.40" y="397.38" font-size="32.25" font-weight="normal" fill="#111" textLength="58.29" lengthAdjust="spacingAndGlyphs" stroke="#111" stroke-width="0.5">1.66</text>
<text x="378.89" y="406.28" font-size="31.97" font-weight="normal" fill="#111" textLength="56.15" lengthAdjust="spacingAndGlyphs" stroke="#111" stroke-width="0.5">1.57</text>
<text x="473.08" y="402.68" font-size="31.97" font-weight="normal" fill="#111" textLength="58.82" lengthAdjust="spacingAndGlyphs" stroke="#111" stroke-width="0.5">1.63</text>
<text x="554.73" y="415.48" font-size="31.97" font-weight="normal" fill="#111" textLength="60.21" lengthAdjust="spacingAndGlyphs" stroke="#111" stroke-width="0.5">1.48</text>
<text x="637.36" y="440.58" font-size="31.97" font-weight="normal" fill="#111" textLength="59.25" lengthAdjust="spacingAndGlyphs" stroke="#111" stroke-width="0.5">1.09</text>
<text x="722.45" y="433.46" font-size="33.66" font-weight="normal" fill="#111" textLength="59.57" lengthAdjust="spacingAndGlyphs" stroke="#111" stroke-width="0.5">1.23</text>
<text x="806.08" y="433.80" font-size="34.14" font-weight="normal" fill="#111" textLength="58.92" lengthAdjust="spacingAndGlyphs" stroke="#111" stroke-width="0.5">1.24</text>
<text x="915.26" y="462.05" font-size="35.49" font-weight="bold" fill="#1b5ca6" textLength="65.33" lengthAdjust="spacingAndGlyphs" stroke="#f5f5f5" stroke-width="0.5">0.81</text>
<text x="47.65" y="634.08" font-size="27.44" font-weight="normal" fill="#555" textLength="127.91" lengthAdjust="spacingAndGlyphs" stroke="#f5f5f5" stroke-width="0.3">자료: 통계청</text>
<text x="853.63" y="635.49" font-size="24.79" font-weight="900" fill="#1b3a6b" textLength="103.36" lengthAdjust="spacingAndGlyphs" stroke="#1b3a6b" stroke-width="1.0">연합뉴스</text>
<text x="9.64" y="700.34" font-size="31.12" font-weight="500" fill="#111" textLength="135.82" lengthAdjust="spacingAndGlyphs" stroke="#111" stroke-width="0.6">원형민 기자</text>
<text x="160.47" y="701.31" font-size="29.01" font-weight="normal" fill="#111" textLength="135.92" lengthAdjust="spacingAndGlyphs" stroke="#fff" stroke-width="0.4">20220824</text>
<text x="550.09" y="584.47" font-size="32.96" font-weight="normal" fill="#111" textLength="71.63" lengthAdjust="spacingAndGlyphs" stroke="#f5f5f5" stroke-width="0.5">2000</text>
<text x="890.34" y="584.27" font-size="32.68" font-weight="normal" fill="#111" textLength="64.97" lengthAdjust="spacingAndGlyphs" stroke="#f5f5f5" stroke-width="0.5">2021</text>
<text x="956.40" y="582.75" font-size="31.26" font-weight="normal" fill="#111" textLength="27.50" lengthAdjust="spacingAndGlyphs" stroke="#f5f5f5" stroke-width="0.5">년</text>
<text x="51.06" y="584.47" font-size="32.96" font-weight="normal" fill="#111" textLength="65.16" lengthAdjust="spacingAndGlyphs" stroke="#f5f5f5" stroke-width="0.5">1970</text>
<text x="134.67" y="584.47" font-size="32.96" font-weight="normal" fill="#111" textLength="64.83" lengthAdjust="spacingAndGlyphs" stroke="#f5f5f5" stroke-width="0.5">1975</text>
<text x="216.61" y="584.47" font-size="32.96" font-weight="normal" fill="#111" textLength="69.27" lengthAdjust="spacingAndGlyphs" stroke="#f5f5f5" stroke-width="0.5">1980</text>
<text x="300.45" y="584.47" font-size="32.96" font-weight="normal" fill="#111" textLength="68.01" lengthAdjust="spacingAndGlyphs" stroke="#f5f5f5" stroke-width="0.5">1985</text>
<text x="383.72" y="584.47" font-size="32.96" font-weight="normal" fill="#111" textLength="69.06" lengthAdjust="spacingAndGlyphs" stroke="#f5f5f5" stroke-width="0.5">1990</text>
<text x="467.34" y="584.47" font-size="32.96" font-weight="normal" fill="#111" textLength="68.54" lengthAdjust="spacingAndGlyphs" stroke="#f5f5f5" stroke-width="0.5">1995</text>
<text x="634.07" y="584.47" font-size="32.96" font-weight="normal" fill="#111" textLength="72.38" lengthAdjust="spacingAndGlyphs" stroke="#f5f5f5" stroke-width="0.5">2005</text>
<text x="720.29" y="584.47" font-size="32.96" font-weight="normal" fill="#111" textLength="67.26" lengthAdjust="spacingAndGlyphs" stroke="#f5f5f5" stroke-width="0.5">2010</text>
<text x="803.11" y="584.47" font-size="32.96" font-weight="normal" fill="#111" textLength="66.22" lengthAdjust="spacingAndGlyphs" stroke="#f5f5f5" stroke-width="0.5">2015</text>
<text x="50.54" y="475.45" font-size="22.86" font-weight="normal" fill="#aeaeae" textLength="12.17" lengthAdjust="spacingAndGlyphs" stroke="#f5f5f5" stroke-width="0.3">1</text>
<text x="50.54" y="400.28" font-size="22.86" font-weight="normal" fill="#aeaeae" textLength="12.17" lengthAdjust="spacingAndGlyphs" stroke="#f5f5f5" stroke-width="0.3">2</text>
<text x="50.54" y="325.11" font-size="22.86" font-weight="normal" fill="#aeaeae" textLength="12.17" lengthAdjust="spacingAndGlyphs" stroke="#f5f5f5" stroke-width="0.3">3</text>
<text x="50.11" y="249.94" font-size="22.86" font-weight="normal" fill="#aeaeae" textLength="12.17" lengthAdjust="spacingAndGlyphs" stroke="#f5f5f5" stroke-width="0.3">4</text>
</svg>
</body></html>
